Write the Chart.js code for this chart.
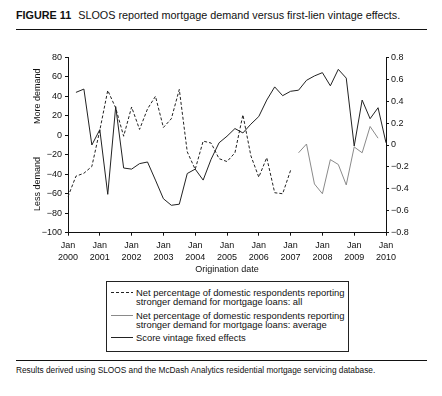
<!DOCTYPE html>
<html>
<head>
<meta charset="utf-8">
<script src="https://cdn.jsdelivr.net/npm/chart.js@4.4.1/dist/chart.umd.min.js"></script>
<style>
  body {
    margin: 0;
    width: 442px;
    height: 396px;
    background: #fff;
    position: relative;
    overflow: hidden;
    font-family: "Liberation Sans", Arial, sans-serif;
    color: #111;
  }
  #title { position: absolute; left: 16px; top: 9px; font-size: 10.8px; line-height: 12px; white-space: nowrap; }
  #title b { margin-right: 7px; }
  .rule { position: absolute; left: 16px; width: 411px; height: 0; border-top: 1px solid #111; }
  #chart { position: absolute; left: 0; top: 30px; }
  #legend {
    position: absolute; left: 106px; top: 281px; width: 241px; height: 63px;
    border: 1px solid #222; box-sizing: content-box; padding-top: 6px;
  }
  #legend .item { display: flex; align-items: flex-start; margin-top: 4.6px; }
  #legend .item:first-child { margin-top: 0; }
  #legend svg { margin-left: 4px; margin-right: 3px; flex: none; }
  #legend .txt { font-size: 9.4px; line-height: 9px; white-space: nowrap; }
  #note { position: absolute; left: 16px; top: 365px; font-size: 8.3px; line-height: 10px; white-space: nowrap; }
</style>
</head>
<body>
<div id="title"><b>FIGURE 11</b>SLOOS reported mortgage demand versus first-lien vintage effects.</div>
<div class="rule" style="top:29px"></div>
<canvas id="chart" width="442" height="248"></canvas>
<div id="legend"></div>
<div class="rule" style="top:360px"></div>
<div id="note">Results derived using SLOOS and the McDash Analytics residential mortgage servicing database.</div>

<script>
// Quarterly origination dates (x categories)
const quarters = [
  "2000Q1", "2000Q2", "2000Q3", "2000Q4",
  "2001Q1", "2001Q2", "2001Q3", "2001Q4",
  "2002Q1", "2002Q2", "2002Q3", "2002Q4",
  "2003Q1", "2003Q2", "2003Q3", "2003Q4",
  "2004Q1", "2004Q2", "2004Q3", "2004Q4",
  "2005Q1", "2005Q2", "2005Q3", "2005Q4",
  "2006Q1", "2006Q2", "2006Q3", "2006Q4",
  "2007Q1", "2007Q2", "2007Q3", "2007Q4",
  "2008Q1", "2008Q2", "2008Q3", "2008Q4",
  "2009Q1", "2009Q2", "2009Q3", "2009Q4",
  "2010Q1",
];

// Net percentage reporting stronger demand: all (left axis), 2000Q1 - 2007Q1
const demandAllStart = "2000Q1";
const demandAll = [
  -63, -42, -39, -32,
  5, 46, 28, -1,
  29, 6, 27, 40,
  8, 17, 47, -17,
  -35, -6, -8, -24,
  -27, -18, 21, -21,
  -43, -23, -59, -60,
  -36,
];

// Net percentage reporting stronger demand: average (left axis), 2007Q2 - 2009Q4
const demandAvgStart = "2007Q2";
const demandAvg = [-18, -9, -50, -60, -25, -30, -51, -12, -18, 9, -3];

// Score vintage fixed effects (right axis), 2000Q2 - 2010Q1
const vintageStart = "2000Q2";
const vintage = [
  0.48, 0.51, 0.0,
  0.14, -0.45, 0.35, -0.21,
  -0.22, -0.17, -0.155, -0.32,
  -0.49, -0.55, -0.54, -0.26,
  -0.22, -0.32, -0.13, 0.02,
  0.08, 0.15, 0.11, 0.19,
  0.26, 0.41, 0.53, 0.45,
  0.49, 0.5, 0.59, 0.63,
  0.66, 0.54, 0.69, 0.61,
  -0.01, 0.41, 0.24, 0.34,
  0.02,
];

const legendLabels = [
  ["Net percentage of domestic respondents reporting", "stronger demand for mortgage loans: all"],
  ["Net percentage of domestic respondents reporting", "stronger demand for mortgage loans: average"],
  ["Score vintage fixed effects"],
];

const leftSideTitles = ["More demand", "Less demand"];
const leftSideTitleValues = [40, -50];

const FONT = '"Liberation Sans", Arial, sans-serif';
const INK = "#111";

// Pair a series with its quarters, starting at the given quarter
function toPoints(values, start) {
  const offset = quarters.indexOf(start);
  return values.map((v, i) => ({ x: quarters[offset + i], y: v }));
}

function minusSign(text) {
  return String(text).replace("-", "\u2212");
}

// Rotated "More demand" / "Less demand" titles beside the left axis
const sideTitles = {
  id: "sideTitles",
  afterDraw(chart) {
    const { ctx } = chart;
    const yScale = chart.scales.y;
    ctx.save();
    ctx.font = `9px ${FONT}`;
    ctx.fillStyle = INK;
    ctx.textAlign = "center";
    ctx.textBaseline = "middle";
    leftSideTitles.forEach((text, i) => {
      ctx.save();
      ctx.translate(38, yScale.getPixelForValue(leftSideTitleValues[i]));
      ctx.rotate(-Math.PI / 2);
      ctx.fillText(text, 0, 0);
      ctx.restore();
    });
    ctx.restore();
  },
};

const axisCommon = {
  grid: { display: true, drawOnChartArea: false, drawTicks: true, tickLength: 3, color: INK, lineWidth: 1 },
  border: { display: true, color: INK, width: 1 },
};

const datasets = [
  {
    label: legendLabels[0].join(" "),
    data: toPoints(demandAll, demandAllStart),
    yAxisID: "y",
    borderColor: "#222",
    borderWidth: 1,
    borderDash: [3, 2],
    pointRadius: 0,
    tension: 0,
  },
  {
    label: legendLabels[1].join(" "),
    data: toPoints(demandAvg, demandAvgStart),
    yAxisID: "y",
    borderColor: "#8a8a8a",
    borderWidth: 1,
    pointRadius: 0,
    tension: 0,
  },
  {
    label: legendLabels[2].join(" "),
    data: toPoints(vintage, vintageStart),
    yAxisID: "y1",
    borderColor: "#222",
    borderWidth: 1,
    pointRadius: 0,
    tension: 0,
  },
];

new Chart(document.getElementById("chart"), {
  type: "line",
  data: { labels: quarters, datasets },
  options: {
    responsive: false,
    animation: false,
    devicePixelRatio: 1,
    layout: { padding: { top: 27.3, right: 0, bottom: 0, left: 0 } },
    plugins: { legend: { display: false }, tooltip: { enabled: false } },
    scales: {
      x: {
        type: "category",
        offset: false,
        ...axisCommon,
        ticks: {
          autoSkip: false,
          maxRotation: 0,
          padding: 4.5,
          color: INK,
          font: { family: FONT, size: 9, lineHeight: 1.25 },
          callback(value) {
            return ["Jan", quarters[value].slice(0, 4)];
          },
        },
        afterBuildTicks(scale) {
          scale.ticks = scale.ticks.filter((t) => quarters[t.value].endsWith("Q1"));
        },
        title: {
          display: true,
          text: "Origination date",
          color: INK,
          font: { family: FONT, size: 9 },
          padding: { top: 0, bottom: 3 },
        },
        afterFit(scale) {
          scale.height = 45.3;
        },
      },
      y: {
        position: "left",
        min: -100,
        max: 80,
        ...axisCommon,
        ticks: {
          stepSize: 20,
          padding: 3,
          color: INK,
          font: { family: FONT, size: 9 },
          callback: (v) => minusSign(v),
        },
        afterFit(scale) {
          scale.width = 68;
        },
      },
      y1: {
        position: "right",
        min: -0.8,
        max: 0.8,
        ...axisCommon,
        ticks: {
          stepSize: 0.2,
          padding: 2,
          color: INK,
          font: { family: FONT, size: 9 },
          callback: (v) => minusSign(Number(v.toFixed(1))),
        },
        afterFit(scale) {
          scale.width = 56;
        },
      },
    },
  },
  plugins: [sideTitles],
});

// Boxed legend with wrapped labels, built from the datasets
const legend = document.getElementById("legend");
datasets.forEach((ds, i) => {
  const item = document.createElement("div");
  item.className = "item";
  const dash = ds.borderDash ? ds.borderDash.join(",") : "none";
  item.innerHTML =
    `<svg width="22" height="9"><line x1="0" y1="4.5" x2="22" y2="4.5" stroke="${ds.borderColor}" ` +
    `stroke-width="1" stroke-dasharray="${dash}"/></svg>` +
    `<div class="txt">${legendLabels[i].join("<br>")}</div>`;
  legend.appendChild(item);
});
</script>
</body>
</html>
